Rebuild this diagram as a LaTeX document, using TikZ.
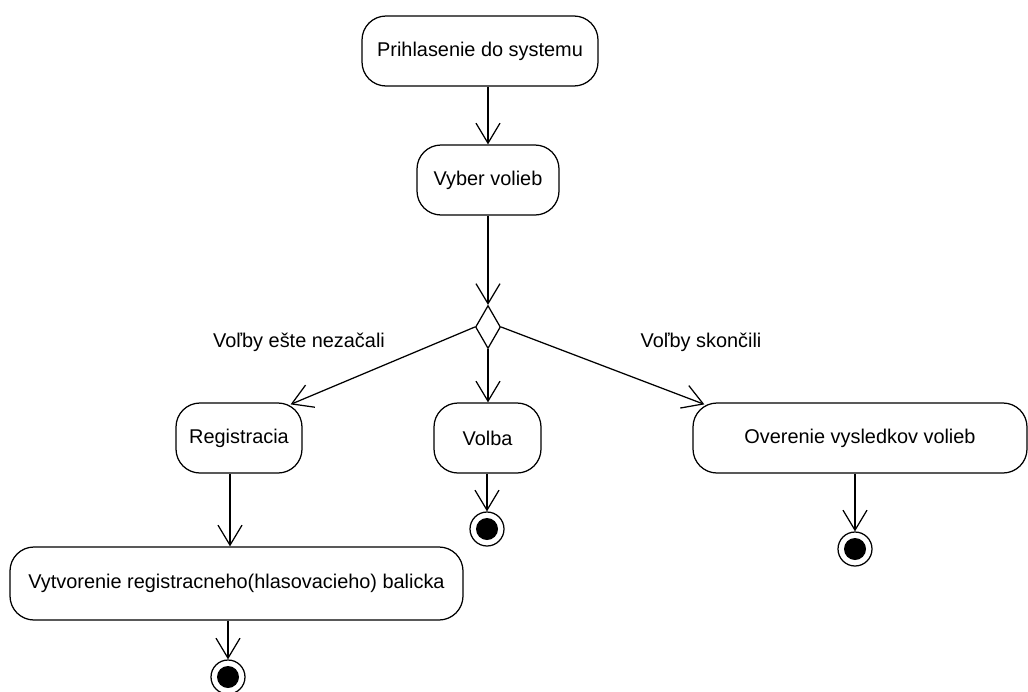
\documentclass[tikz,border=0pt]{standalone}
\usepackage{fontspec}
\setmainfont{Liberation Sans}
\usetikzlibrary{arrows.meta,shapes.geometric}
\begin{document}
\begin{tikzpicture}[x=1pt,y=-1pt,
  every node/.style={font=\fontsize{19.9}{24}\selectfont},
  action/.style={draw, line width=1.25pt, rounded corners=24pt, inner sep=0pt, minimum height=70pt},
  decision/.style={diamond, draw, line width=1.25pt, inner sep=0pt, minimum width=25pt, minimum height=43pt},
  finalnode/.style={circle, draw, fill=white, line width=1.25pt, minimum size=34pt, inner sep=0pt,
    path picture={\fill[black] (path picture bounding box.center) circle (11pt);}},
  flow/.style={line width=1.25pt, -{Straight Barb[length=20pt,width=24pt]}},
  guard/.style={inner sep=0pt}]
\useasboundingbox (0,0) rectangle (1028,691);

% activities
\node[action, minimum width=236pt] (prih) at (480,51) {Prihlasenie do systemu};
\node[action, minimum width=142pt] (vyber) at (488,180) {Vyber volieb};
\node[decision] (dec) at (488,327) {};
\node[action, minimum width=126pt] (reg) at (239,438) {Registracia};
\node[action, minimum width=107pt] (volba) at (487.5,438) {Volba};
\node[action, minimum width=334pt] (over) at (860,438) {Overenie vysledkov volieb};
\node[action, minimum width=453pt, minimum height=73pt] (vyt) at (236.5,583.5) {Vytvorenie registracneho(hlasovacieho) balicka};

% final states
\node[finalnode] (f1) at (228,677) {};
\node[finalnode] (f2) at (487,529) {};
\node[finalnode] (f3) at (855,549) {};

% guard labels
\node[guard] (g1) at (299,342) {Voľby ešte nezačali};
\node[guard] (g2) at (701,342) {Voľby skončili};

% control flow
\draw[flow] (vyber.north |- prih.south) -- (vyber.north);
\draw[flow] (vyber.south) -- (dec.north);
\draw[flow] (dec.west) -- ([shift={(-12,2)}]reg.north east);
\draw[flow] (dec.south) -- (dec.south |- volba.north);
\draw[flow] (dec.east) -- ([shift={(12,2)}]over.north west);
\draw[flow] ([xshift=-9pt]reg.south) -- ([xshift=-9pt]reg.south |- vyt.north);
\draw[flow] (f1.north |- vyt.south) -- (f1.north);
\draw[flow] (f2.north |- volba.south) -- (f2.north);
\draw[flow] (f3.north |- over.south) -- (f3.north);
\end{tikzpicture}
\end{document}
